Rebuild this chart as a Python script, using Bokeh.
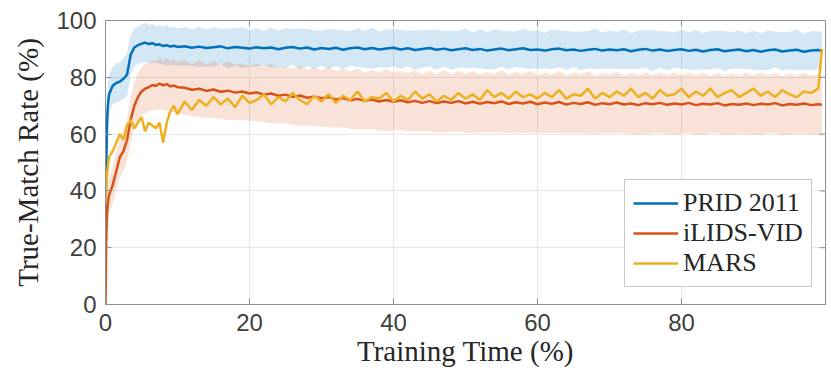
import math
from bokeh.plotting import figure
from bokeh.models import ColumnDataSource, FixedTicker, Legend, LegendItem
from bokeh.embed import file_html
from bokeh.resources import INLINE

# Training time grid (%)
train_time = [0, 0.1, 0.2, 0.3, 0.4] + [i * 0.5 for i in range(1, 21)] + list(range(11, 100)) + [99.5]

# PRID 2011 (mean true-match rate, %)
prid_mean = [20, 48, 62, 69, 72,
             74, 77, 78, 78.5, 79.5, 81, 88, 90.5, 91.3, 91.8, 92.2, 91.7, 92.0, 91.4, 91.6, 91.0, 91.3, 90.8, 91.1, 90.7,
             90.9, 90.4, 90.8, 90.3, 90.6, 90.9, 90.2, 90.7, 90.4, 90.1,
             90.6, 90.2, 90.5, 89.9, 90.4, 90.7, 90.1, 90.5, 89.8, 90.3,
             90.0, 90.4, 89.7, 90.2, 90.5, 89.9, 90.3, 89.8, 90.1, 90.4,
             89.8, 90.2, 89.6, 90.0, 90.3, 89.7, 90.1, 89.5, 89.9, 90.2,
             89.6, 90.0, 89.4, 89.8, 90.1, 89.5, 89.9, 90.2, 89.6, 89.8,
             89.4, 89.9, 90.1, 89.5, 89.8, 89.3, 89.7, 90.0, 89.4, 89.8,
             89.5, 89.9, 89.2, 89.7, 90.0, 89.4, 89.8, 89.3, 89.6, 89.9,
             89.3, 89.7, 89.1, 89.6, 89.9, 89.2, 89.5, 89.8, 89.2, 89.6,
             89.0, 89.5, 89.8, 89.1, 89.4, 89.7, 89.0, 89.4, 89.6,
             89.3]
prid_std = [6, 8, 8, 7.5, 7,
            7, 6.5, 7, 6.8, 7.2, 7.5, 7, 6.8, 6.5, 6.8, 7.0, 6.6, 6.9, 6.4, 6.8, 6.6, 7.1, 6.5, 6.9, 6.6,
            6.8, 6.3, 7.1, 6.5, 6.9, 6.2, 7.0, 6.6, 7.2, 6.4,
            6.7, 6.1, 7.0, 6.5, 6.9, 6.3, 7.1, 6.6, 6.8, 6.2,
            7.0, 6.4, 6.8, 6.1, 6.9, 6.5, 7.2, 6.3, 6.7, 6.5,
            6.9, 6.2, 7.0, 6.6, 6.4, 7.1, 6.3, 6.8, 6.5, 7.0,
            6.2, 6.9, 6.5, 7.1, 6.4, 6.7, 6.2, 7.0, 6.6, 6.8,
            6.3, 7.0, 6.5, 6.9, 6.2, 6.8, 6.6, 7.1, 6.4, 6.7,
            6.5, 7.0, 6.3, 6.8, 6.6, 7.2, 6.4, 6.9, 6.2, 6.8,
            6.6, 7.0, 6.3, 6.9, 6.5, 7.1, 6.4, 6.8, 6.2, 6.9,
            6.5, 7.0, 6.3, 6.8, 6.6, 7.1, 6.4, 6.9, 6.5,
            6.7]

# iLIDS-VID
ilids_mean = [0, 22, 31, 35, 37,
              38.5, 42, 47, 52, 54, 58, 65, 70, 73, 75, 76, 76.5, 77.3, 77.0, 77.8, 77.2, 77.6, 76.8, 77.1, 76.5,
              76.3, 75.6, 76.0, 75.2, 75.7, 74.9, 75.3, 74.6, 75.0, 74.3,
              74.7, 73.9, 74.3, 73.5, 73.9, 73.1, 73.6, 72.8, 73.2, 72.6,
              73.0, 72.2, 72.7, 71.9, 72.4, 71.7, 72.2, 71.5, 72.0, 71.4,
              71.9, 71.2, 71.7, 71.0, 71.6, 70.9, 71.5, 71.0, 71.6, 70.8,
              71.4, 70.7, 71.3, 70.9, 71.5, 70.6, 71.2, 70.8, 71.4, 70.5,
              71.1, 70.7, 71.3, 70.4, 71.0, 70.6, 71.2, 70.3, 70.9, 70.5,
              71.1, 70.4, 70.8, 70.2, 70.9, 70.5, 71.0, 70.3, 70.8, 70.4,
              71.0, 70.2, 70.7, 70.4, 70.9, 70.1, 70.6, 70.3, 70.8, 70.2,
              70.7, 70.4, 70.9, 70.1, 70.6, 70.3, 70.8, 70.2, 70.5,
              70.3]
ilids_std = [1, 4, 5, 5.5, 6,
             6, 6.5, 6.5, 7, 7, 7.5, 8, 8, 8.5, 8.3, 8.7, 8.4, 8.9, 8.6, 9.0, 8.7, 9.2, 8.8, 9.3, 9.0,
             9.6, 9.2, 9.9, 9.4, 10.1, 9.5, 10.3, 9.7, 10.0, 9.6,
             10.2, 9.7, 10.5, 9.8, 10.1, 9.9, 10.6, 9.8, 10.3, 10.0,
             10.6, 9.9, 10.4, 10.1, 10.8, 10.0, 10.5, 10.2, 10.9, 10.1,
             10.5, 10.2, 10.8, 10.0, 10.6, 10.3, 11.0, 10.1, 10.7, 10.4,
             10.9, 10.2, 10.6, 10.3, 11.0, 10.2, 10.7, 10.4, 10.9, 10.1,
             10.6, 10.3, 10.9, 10.2, 10.7, 10.4, 11.0, 10.2, 10.6, 10.3,
             10.8, 10.1, 10.7, 10.4, 10.9, 10.2, 10.6, 10.3, 11.0, 10.2,
             10.7, 10.4, 10.9, 10.1, 10.6, 10.3, 10.8, 10.2, 10.7, 10.4,
             10.9, 10.2, 10.6, 10.3, 10.8, 10.1, 10.7, 10.4, 10.6,
             10.3]

# MARS
mars_mean = [35, 41, 45, 48, 50,
             52, 54, 57, 60, 58, 63, 65, 62, 64, 66, 61, 64, 63, 62, 64, 57, 64, 68, 70, 67,
             71.5, 68.5, 72.0, 70.0, 73.0, 70.5, 72.5, 69.5, 73.5, 71.0,
             72.0, 74.0, 70.5, 73.0, 71.5, 74.5, 72.0, 70.5, 73.5, 71.5,
             74.0, 71.0, 73.5, 72.0, 75.0, 71.5, 73.0, 72.5, 74.5, 71.5,
             73.5, 72.0, 75.0, 72.5, 74.0, 71.5, 73.5, 72.0, 74.5, 72.5,
             74.0, 72.0, 75.5, 73.0, 74.5, 72.5, 75.0, 73.0, 74.0, 72.5,
             74.5, 73.0, 75.5, 72.5, 74.0, 73.5, 76.0, 72.5, 74.5, 73.0,
             75.0, 73.5, 76.0, 73.0, 74.5, 72.5, 75.5, 73.5, 74.0, 76.0,
             73.0, 75.0, 73.5, 76.0, 73.0, 74.5, 75.5, 73.0, 74.5, 76.0,
             73.5, 75.0, 73.0, 75.5, 74.0, 73.0, 75.0, 74.5, 76.0,
             90.0]

x_ticks = [0, 20, 40, 60, 80]
y_ticks = [0, 20, 40, 60, 80, 100]
X_MAX = 100
Y_MAX = 100

BLUE = "#0072BD"
ORANGE = "#D95319"
YELLOW = "#EDB120"
GREY = "#8f8f8f"

src = ColumnDataSource(dict(
    x=train_time,
    prid=prid_mean,
    prid_lo=[m - s for m, s in zip(prid_mean, prid_std)],
    prid_hi=[min(100, m + s) for m, s in zip(prid_mean, prid_std)],
    ilids=ilids_mean,
    ilids_lo=[max(0, m - s) for m, s in zip(ilids_mean, ilids_std)],
    ilids_hi=[m + s for m, s in zip(ilids_mean, ilids_std)],
    mars=mars_mean,
))

p = figure(width=831, height=378, output_backend="svg", toolbar_location=None,
           x_range=(0, X_MAX), y_range=(0, Y_MAX),
           min_border_left=105, min_border_right=6, min_border_top=20, min_border_bottom=74)

p.varea(x="x", y1="prid_lo", y2="prid_hi", source=src, fill_color=BLUE, fill_alpha=0.17)
p.varea(x="x", y1="ilids_lo", y2="ilids_hi", source=src, fill_color=ORANGE, fill_alpha=0.17)

r1 = p.line("x", "prid", source=src, line_color=BLUE, line_width=2.5)
r2 = p.line("x", "ilids", source=src, line_color=ORANGE, line_width=2.5)
r3 = p.line("x", "mars", source=src, line_color=YELLOW, line_width=2.5)

# box-style inward ticks on the top and right edges
p.ray(x=x_ticks, y=[Y_MAX] * len(x_ticks), length=6, length_units="screen",
      angle=-math.pi / 2, line_color=GREY, line_width=1)
p.ray(x=[X_MAX] * len(y_ticks), y=y_ticks, length=6, length_units="screen",
      angle=math.pi, line_color=GREY, line_width=1)

legend = Legend(items=[LegendItem(label="PRID 2011", renderers=[r1]),
                       LegendItem(label="iLIDS-VID", renderers=[r2]),
                       LegendItem(label="MARS", renderers=[r3])],
                location=(519, 17))
legend.label_text_font = "Liberation Serif"
legend.label_text_font_size = "26px"
legend.label_text_color = "#262626"
legend.label_height = 28
legend.label_standoff = 5
legend.glyph_width = 45
legend.glyph_height = 28
legend.spacing = 0
legend.padding = 8
legend.margin = 0
legend.border_line_color = GREY
legend.border_line_width = 1
legend.background_fill_color = "white"
legend.background_fill_alpha = 1
p.add_layout(legend, "center")

p.outline_line_color = GREY
p.outline_line_width = 1
p.background_fill_color = "white"
p.border_fill_color = "white"

p.xaxis.ticker = FixedTicker(ticks=x_ticks)
p.yaxis.ticker = FixedTicker(ticks=y_ticks)
p.xgrid.ticker = FixedTicker(ticks=x_ticks)
p.ygrid.ticker = FixedTicker(ticks=y_ticks)
p.grid.grid_line_color = "#e6e6e6"
p.grid.grid_line_width = 1

for ax in (p.xaxis[0], p.yaxis[0]):
    ax.axis_line_color = GREY
    ax.major_tick_line_color = GREY
    ax.major_tick_in = 6
    ax.major_tick_out = 0
    ax.minor_tick_line_color = None
    ax.major_label_text_font = "Liberation Sans"
    ax.major_label_text_font_size = "24px"
    ax.major_label_text_color = "#404040"
    ax.axis_label_text_font = "Liberation Serif"
    ax.axis_label_text_font_size = "29px"
    ax.axis_label_text_font_style = "normal"
    ax.axis_label_text_color = "#262626"

p.xaxis.axis_label = "Training Time (%)"
p.yaxis.axis_label = "True-Match Rate (%)"
p.xaxis.major_label_standoff = 9
p.xaxis.axis_label_standoff = 1
p.yaxis.major_label_standoff = 9
p.yaxis.axis_label_standoff = 9

open("out.html", "w").write(file_html(p, INLINE))
